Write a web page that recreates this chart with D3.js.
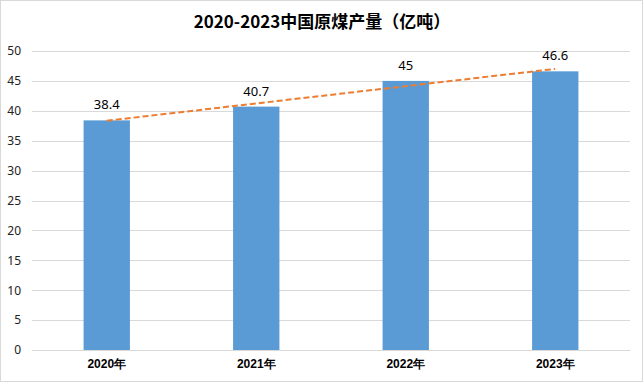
<!DOCTYPE html>
<html>
<head>
<meta charset="utf-8">
<script src="https://cdn.jsdelivr.net/npm/d3@7"></script>
<style>
  body { margin: 0; background: #fff; }
  svg { display: block; font-family: "Noto Sans CJK SC", "Noto Sans", sans-serif; }
</style>
</head>
<body>
<svg id="chart" width="644" height="383"></svg>
<script>
// chart data
const years = ["2020年", "2021年", "2022年", "2023年"];
const output = [38.4, 40.7, 45, 46.6];
const yTicks = [0, 5, 10, 15, 20, 25, 30, 35, 40, 45, 50];
const title = "2020-2023中国原煤产量（亿吨）";

const svg = d3.select("#chart");
const margin = { top: 51, right: 14, bottom: 33, left: 32 };
const width = 644 - margin.left - margin.right;
const height = 383 - margin.top - margin.bottom;

// outer frame
svg.append("rect")
  .attr("x", 0.5).attr("y", 0.5)
  .attr("width", 642).attr("height", 381)
  .attr("fill", "#fff").attr("stroke", "#d9d9d9");

svg.append("text")
  .attr("x", 322).attr("y", 28)
  .attr("text-anchor", "middle")
  .attr("font-size", 17).attr("font-weight", "bold")
  .attr("fill", "#000")
  .text(title);

const g = svg.append("g").attr("transform", `translate(${margin.left},${margin.top})`);

const x = d3.scaleBand().domain(years).range([0, width]).paddingInner(0.69).paddingOuter(0.345);
const y = d3.scaleLinear().domain([0, 50]).range([height, 0]);

// gridlines
g.append("g")
  .selectAll("line")
  .data(yTicks)
  .join("line")
  .attr("x1", 0).attr("x2", width)
  .attr("y1", d => Math.round(y(d)) + 0.5).attr("y2", d => Math.round(y(d)) + 0.5)
  .attr("stroke", "#d9d9d9");

// y axis labels
const yAxis = d3.axisLeft(y).tickValues(yTicks).tickSize(0).tickPadding(11);
g.append("g")
  .call(yAxis)
  .call(s => s.select(".domain").remove())
  .selectAll("text")
  .attr("font-size", 12).attr("fill", "#222")
  .attr("font-family", "\"Noto Sans\", sans-serif");

// bars
g.append("g")
  .selectAll("rect")
  .data(output)
  .join("rect")
  .attr("x", (d, i) => x(years[i]))
  .attr("width", x.bandwidth())
  .attr("y", d => y(d))
  .attr("height", d => height - y(d))
  .attr("fill", "#5b9bd5");

// x axis
const xAxis = d3.axisBottom(x).tickSize(0).tickPadding(9);
g.append("g")
  .attr("transform", `translate(0,${height})`)
  .call(xAxis)
  .call(s => s.select(".domain").attr("stroke", "#d9d9d9"))
  .selectAll("text")
  .attr("font-size", 12).attr("font-weight", "bold").attr("fill", "#000");

// linear trendline (least squares over the bars)
const idx = output.map((d, i) => i);
const mx = d3.mean(idx), my = d3.mean(output);
const slope = d3.sum(idx, i => (i - mx) * (output[i] - my)) / d3.sum(idx, i => (i - mx) ** 2);
const icpt = my - slope * mx;
const cx = i => x(years[i]) + x.bandwidth() / 2;
g.append("line")
  .attr("x1", cx(0)).attr("y1", y(icpt))
  .attr("x2", cx(years.length - 1)).attr("y2", y(icpt + slope * (years.length - 1)))
  .attr("stroke", "#ed7d31").attr("stroke-width", 2)
  .attr("stroke-dasharray", "6,3");

// value labels
g.append("g")
  .selectAll("text")
  .data(output)
  .join("text")
  .attr("x", (d, i) => cx(i))
  .attr("y", d => y(d) - 11)
  .attr("text-anchor", "middle")
  .attr("font-size", 13).attr("fill", "#000")
  .attr("font-family", "\"Noto Sans\", sans-serif")
  .text(d => d);
</script>
</body>
</html>
